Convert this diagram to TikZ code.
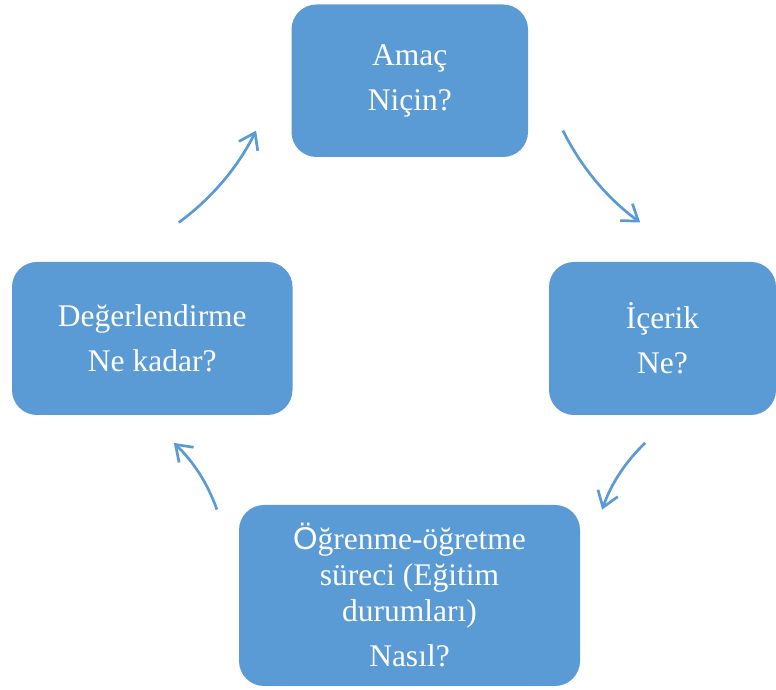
\documentclass[tikz,border=0pt]{standalone}
\usepackage{fontspec}
\setmainfont{Liberation Serif}
\newfontfamily\sansfont{Liberation Sans}
\usetikzlibrary{arrows.meta}
\definecolor{boxblue}{RGB}{91,155,213}

\begin{document}
\begin{tikzpicture}[x=1pt, y=1pt,
    stagebox/.style={fill=boxblue, rounded corners=25pt, text=white, align=center,
        inner sep=0pt, font=\fontsize{31.5}{36}\selectfont},
    cyclearrow/.style={draw=boxblue, line width=2.7pt,
        -{Straight Barb[length=15pt, width=21pt]}, bend right=13.5, looseness=0.88}]
    \useasboundingbox (0,0) rectangle (776,690);
    \node[stagebox, minimum width=236.5pt, minimum height=152.5pt] (amac) at (409.75,609.25) {Amaç\\[9pt]Niçin?};
    \node[stagebox, minimum width=227pt, minimum height=153pt] (icerik) at (662.5,351.5) {İçerik\\[9pt]Ne?};
    \node[stagebox, minimum width=341pt, minimum height=181pt] (surec) at (409.5,94.5) {{\sansfont Ö}ğrenme-öğretme\\süreci (Eğitim\\durumları)\\[9pt]Nasıl?};
    \node[stagebox, minimum width=280.5pt, minimum height=153pt] (degerlendirme) at (152.25,351.5) {Değerlendirme\\[9pt]Ne kadar?};
    \coordinate (a1s) at (562.9,559.4);
    \coordinate (a1e) at (640.2,467.5);
    \coordinate (a2s) at (645.2,247.1);
    \coordinate (a2e) at (602.1,180.4);
    \coordinate (a3s) at (216.9,180.4);
    \coordinate (a3e) at (173.8,247.1);
    \coordinate (a4s) at (178.8,467.5);
    \coordinate (a4e) at (256.1,559.4);
    \draw[cyclearrow] (a1s) to (a1e);
    \draw[cyclearrow] (a2s) to (a2e);
    \draw[cyclearrow] (a3s) to (a3e);
    \draw[cyclearrow] (a4s) to (a4e);
\end{tikzpicture}
\end{document}
